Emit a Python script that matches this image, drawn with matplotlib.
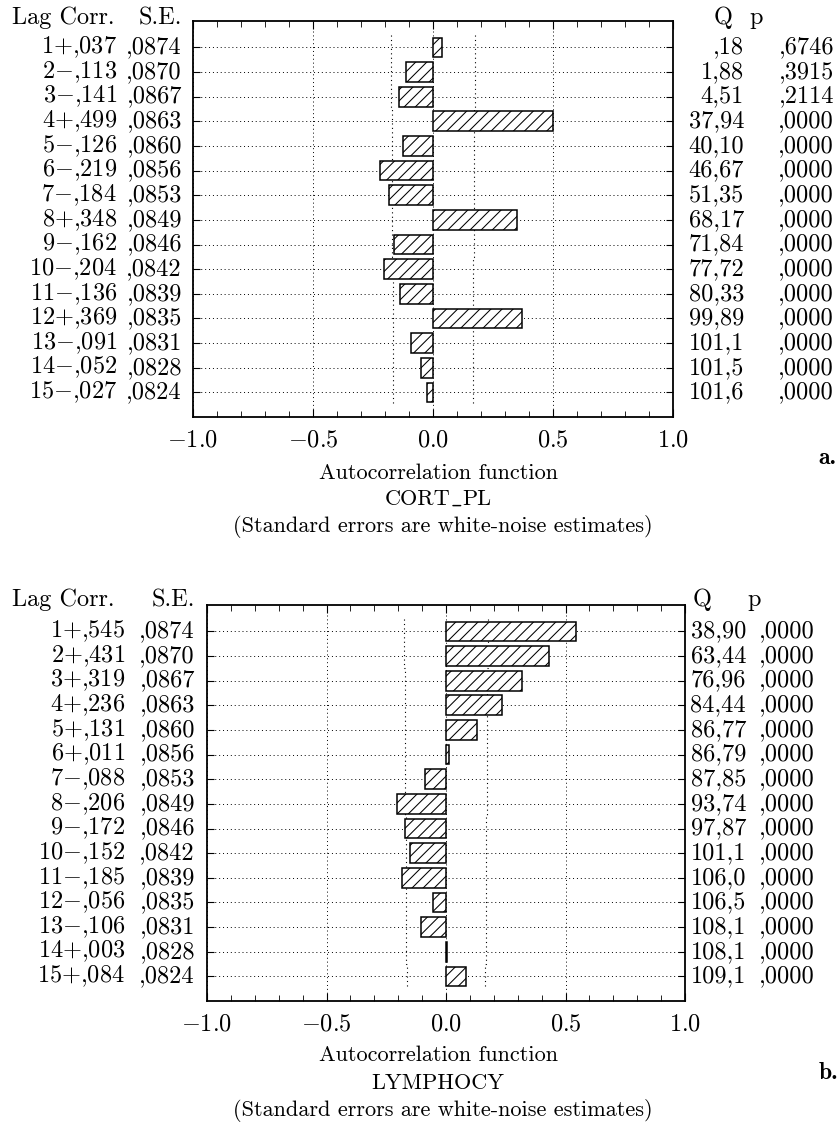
import matplotlib
matplotlib.use("Agg")
import matplotlib.pyplot as plt
import matplotlib.transforms as mtransforms
from matplotlib.ticker import MultipleLocator

plt.rcParams['font.family'] = 'cmr10'
plt.rcParams['mathtext.fontset'] = 'cm'
plt.rcParams['axes.formatter.use_mathtext'] = True
plt.rcParams['hatch.linewidth'] = 0.75

# data
lags = list(range(1, 16))
se = [.0874, .0870, .0867, .0863, .0860, .0856, .0853, .0849,
      .0846, .0842, .0839, .0835, .0831, .0828, .0824]

corr_a = [.037, -.113, -.141, .499, -.126, -.219, -.184, .348,
          -.162, -.204, -.136, .369, -.091, -.052, -.027]
q_a = [.18, 1.88, 4.51, 37.94, 40.10, 46.67, 51.35, 68.17,
       71.84, 77.72, 80.33, 99.89, 101.1, 101.5, 101.6]
p_a = [.6746, .3915, .2114, 0, 0, 0, 0, 0, 0, 0, 0, 0, 0, 0, 0]

corr_b = [.545, .431, .319, .236, .131, .011, -.088, -.206,
          -.172, -.152, -.185, -.056, -.106, .003, .084]
q_b = [38.90, 63.44, 76.96, 84.44, 86.77, 86.79, 87.85, 93.74,
       97.87, 101.1, 106.0, 106.5, 108.1, 108.1, 109.1]
p_b = [0] * 15

var_a = ['CORT', '_', 'PL']
var_b = ['LYMPHOCY']

W, H = 839, 1124
FS = 17.5
TFS = 16


def frac(v, s=''):
    # ,037 style (no leading zero, comma decimal)
    t = s % v
    if t.startswith('0.'):
        t = t[1:]
    return t.replace('.', ',')


def corr_label(lag, c):
    sign = '$+$' if c >= 0 else '$-$'
    return '%d%s%s' % (lag, sign, frac(abs(c), '%.3f'))


def q_label(q):
    return frac(q, '%.1f' if q >= 100 else '%.2f')


def centered_pieces(fig, pieces, cx, y):
    # cmr10 has no underscore glyph, so "_" comes from cmtt10
    rend = fig.canvas.get_renderer()
    objs = []
    for s in pieces:
        fam = 'cmtt10' if s == '_' else 'cmr10'
        objs.append(fig.text(0, y, s, ha='left', va='center',
                             fontsize=TFS, family=fam))
    widths = [o.get_window_extent(rend).width for o in objs]
    x = cx * W - sum(widths) / 2
    for o, w in zip(objs, widths):
        o.set_x(x / W)
        x += w


def panel(fig, rect, corr, q, p, var, x_lag, x_se, x_q, x_p, hdr_q, hdr_p,
          head_y, title_y, letter, letter_xy):
    ax = fig.add_axes(rect)
    ax.set_axisbelow(True)
    ax.barh(lags, corr, height=0.8, color='white', edgecolor='black',
            hatch='///', linewidth=1.1, zorder=3)

    # +/- 2 S.E. limits as step lines
    ys, xs = [], []
    for lag, s in zip(lags, se):
        ys += [lag - 0.5, lag + 0.5]
        xs += [2 * s, 2 * s]
    ax.plot(xs, ys, color='black', ls=(0, (1, 3)), lw=0.8, zorder=2)
    ax.plot([-x for x in xs], ys, color='black', ls=(0, (1, 3)), lw=0.8, zorder=2)

    ax.set_xlim(-1.0, 1.0)
    ax.set_ylim(16.0, -0.07)
    ax.xaxis.set_major_locator(MultipleLocator(0.5))
    ax.xaxis.set_minor_locator(MultipleLocator(0.1))
    ax.set_yticks(lags)
    ax.set_yticklabels([])
    ax.grid(True, which='major', color='black', ls=(0, (1, 3)), lw=0.7)
    ax.tick_params(axis='x', which='both', direction='in', top=True,
                   labelsize=FS, pad=9)
    ax.tick_params(axis='x', which='major', length=6)
    ax.tick_params(axis='x', which='minor', length=4)
    ax.tick_params(axis='y', direction='in', right=True, length=5)
    for sp in ax.spines.values():
        sp.set_linewidth(1.3)

    tr = mtransforms.blended_transform_factory(fig.transFigure, ax.transData)
    for lag, c, s, qq, pp in zip(lags, corr, se, q, p):
        ax.text(x_lag / W, lag, corr_label(lag, c), transform=tr,
                ha='right', va='center', fontsize=FS)
        ax.text(x_se / W, lag, frac(s, '%.4f'), transform=tr,
                ha='right', va='center', fontsize=FS)
        ax.text(x_q / W, lag, q_label(qq), transform=tr,
                ha='right', va='center', fontsize=FS)
        ax.text(x_p / W, lag, frac(pp, '%.4f'), transform=tr,
                ha='right', va='center', fontsize=FS)

    hy = 1 - head_y / H
    fig.text(12 / W, hy, 'Lag Corr.', ha='left', va='center', fontsize=FS)
    fig.text(x_se / W, hy, 'S.E.', ha='right', va='center', fontsize=FS)
    fig.text(hdr_q / W, hy, 'Q', ha='center', va='center', fontsize=FS)
    fig.text(hdr_p / W, hy, 'p', ha='center', va='center', fontsize=FS)

    cx = 438 / W
    fig.text(cx, 1 - title_y[0] / H, 'Autocorrelation function',
             ha='center', va='center', fontsize=TFS)
    centered_pieces(fig, var, cx, 1 - title_y[1] / H)
    fig.text(443 / W, 1 - title_y[2] / H,
             '(Standard errors are white-noise estimates)',
             ha='center', va='center', fontsize=TFS)
    fig.text(letter_xy[0] / W, 1 - letter_xy[1] / H, letter, ha='right',
             va='center', fontsize=17, family='cmb10')
    return ax


fig = plt.figure(figsize=(W / 100, H / 100), dpi=100)

panel(fig, [193 / W, 1 - 417 / H, 480 / W, 396 / H], corr_a, q_a, p_a, var_a,
      117, 182, 744, 834, 723, 756, 18, [473, 499, 527], 'a.', (836, 458))
panel(fig, [207 / W, 1 - 1001 / H, 478 / W, 396 / H], corr_b, q_b, p_b, var_b,
      125, 195, 746, 815, 702, 754, 600, [1055, 1083, 1110], 'b.', (838, 1073))

fig.savefig('out.png', dpi=100)
